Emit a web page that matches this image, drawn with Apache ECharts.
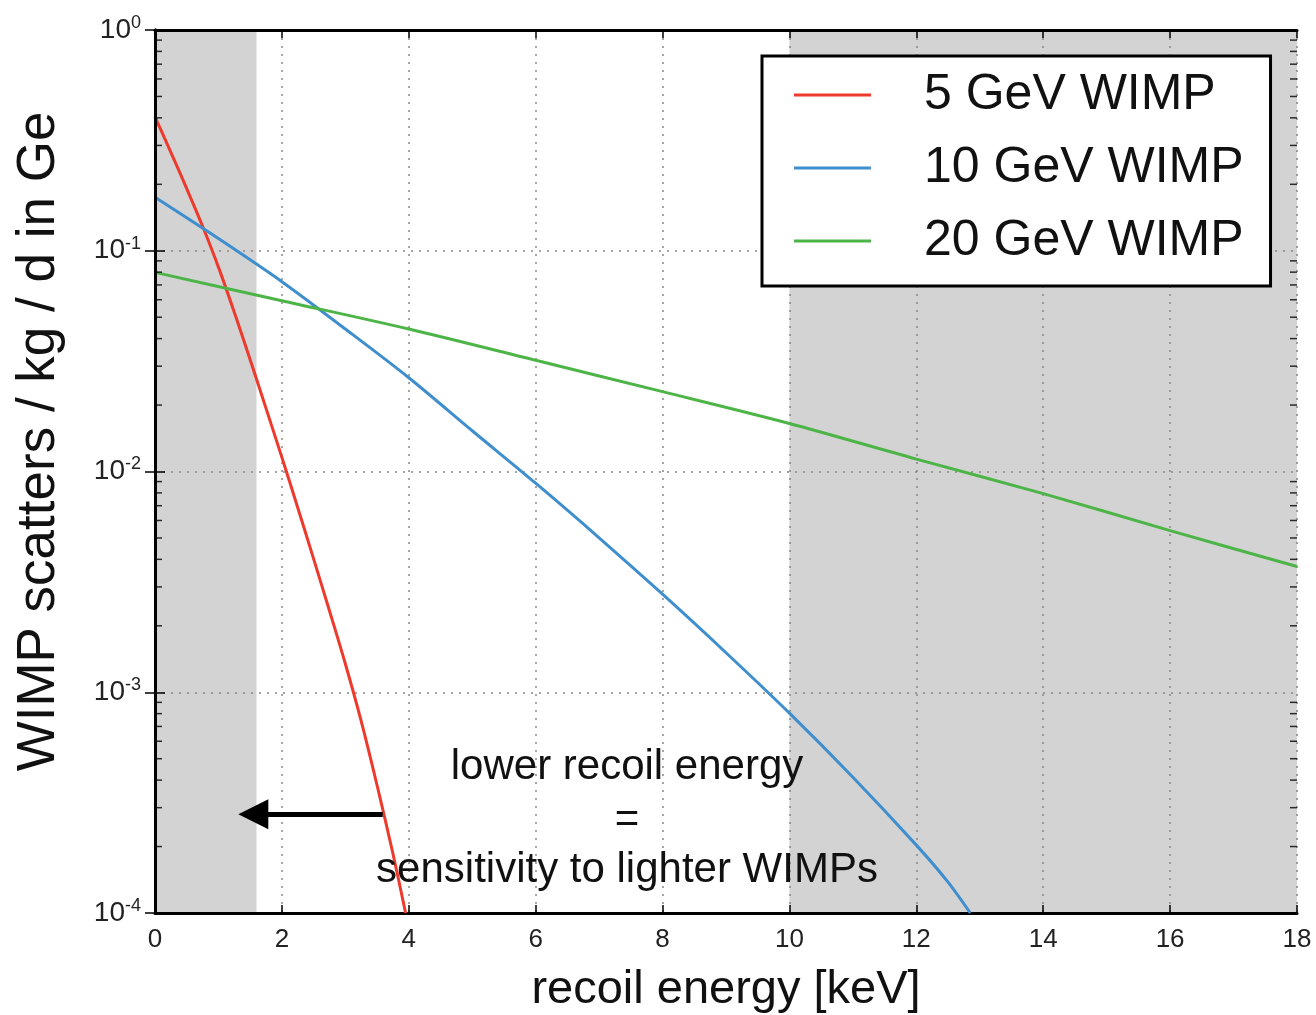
<!DOCTYPE html>
<html>
<head>
<meta charset="utf-8">
<script src="https://cdn.jsdelivr.net/npm/echarts@6/dist/echarts.min.js"></script>
<style>
  html, body { margin: 0; padding: 0; background: #fff; }
  #main { width: 1316px; height: 1015px; }
</style>
</head>
<body>
<div id="main"></div>
<script>
// recoil energy [keV] and rate [scatters / kg / d in Ge]
var energy5 = [0, 0.25, 0.5, 0.75, 1.0, 1.25, 1.5, 1.75, 2.0, 2.25, 2.5, 2.75, 3.0, 3.25, 3.5, 3.75, 3.95];
var rate5 = [0.4036, 0.2793, 0.191, 0.1291, 0.0843, 0.0526, 0.03206, 0.01932, 0.01159, 0.006855, 0.004018, 0.002339, 0.001346, 0.00074, 0.000379, 0.000186, 0.0001];

var energy10 = [0, 1, 2, 3, 4, 5, 6, 7, 8, 9, 10, 11, 12, 12.5, 12.85];
var rate10 = [0.1746, 0.1135, 0.0724, 0.0442, 0.0266, 0.0153, 0.00885, 0.00501, 0.00278, 0.00151, 0.000804, 0.000412, 0.000203, 0.000138, 0.0001];

var energy20 = [0, 2, 4, 6, 8, 10, 12, 14, 16, 18];
var rate20 = [0.0798, 0.0594, 0.0442, 0.0319, 0.0230, 0.0165, 0.01138, 0.00794, 0.0054, 0.00371];

var seriesNames = ['5 GeV WIMP', '10 GeV WIMP', '20 GeV WIMP'];
var seriesColors = ['#ee3a2c', '#3f8ecd', '#4db548'];

// shaded regions (keV)
var bands = [[0, 1.6], [10, 18]];

// log minor ticks 2..9 per decade
var minorTicks = [];
for (var n = -4; n < 0; n++) {
  for (var k = 2; k <= 9; k++) {
    minorTicks.push(k * Math.pow(10, n));
  }
}

var font = 'Liberation Sans, Arial, Helvetica, sans-serif';

function zip(xs, ys) {
  return xs.map(function (x, i) { return [x, ys[i]]; });
}

function curve(i, xs, ys) {
  return {
    name: seriesNames[i],
    type: 'line',
    data: zip(xs, ys),
    smooth: 0.3,
    symbol: 'none',
    z: 3,
    lineStyle: { color: seriesColors[i], width: 3 },
    itemStyle: { color: seriesColors[i] }
  };
}

var chart = echarts.init(document.getElementById('main'));

var redSeries = curve(0, energy5, rate5);
// arrow pointing to low energies
redSeries.markLine = {
  silent: true,
  symbol: ['none', 'triangle'],
  symbolSize: [30, 30],
  label: { show: false },
  lineStyle: { color: '#000', width: 5, type: 'solid' },
  data: [[{ coord: [3.59, 2.8e-4] }, { coord: [1.55, 2.8e-4] }]]
};

var series = [
  // gray bands
  {
    type: 'line',
    data: [],
    z: 0,
    silent: true,
    markArea: {
      silent: true,
      z: 0,
      itemStyle: { color: '#d3d3d3' },
      data: bands.map(function (b) { return [{ xAxis: b[0] }, { xAxis: b[1] }]; })
    }
  },
  redSeries,
  curve(1, energy10, rate10),
  curve(2, energy20, rate20),
  // minor ticks left / right
  {
    type: 'scatter',
    silent: true,
    z: 5,
    symbol: 'rect',
    symbolSize: [7, 1.5],
    symbolOffset: [3.5, 0],
    itemStyle: { color: '#000' },
    data: minorTicks.map(function (v) { return [0, v]; })
  },
  {
    type: 'scatter',
    silent: true,
    z: 5,
    symbol: 'rect',
    symbolSize: [7, 1.5],
    symbolOffset: [-3.5, 0],
    itemStyle: { color: '#000' },
    data: minorTicks.map(function (v) { return [18, v]; })
  }
];

chart.setOption({
  animation: false,
  backgroundColor: '#fff',
  textStyle: { fontFamily: font },
  grid: { left: 155, right: 19, top: 30, bottom: 102, containLabel: false, outerBoundsMode: 'none' },
  legend: {
    data: seriesNames,
    orient: 'vertical',
    left: 762,
    top: 56,
    align: 'left',
    icon: 'rect',
    itemWidth: 77,
    itemHeight: 3,
    itemGap: 23,
    padding: [14, 27, 20, 32],
    backgroundColor: '#fff',
    borderColor: '#000',
    borderWidth: 3,
    borderRadius: 0,
    z: 10,
    formatter: function (name) { return '{t|' + name + '}'; },
    textStyle: {
      rich: {
        t: { fontSize: 50, fontFamily: font, color: '#111', padding: [0, 0, 0, 48] }
      }
    }
  },
  xAxis: [
    {
      type: 'value',
      min: 0,
      max: 18,
      interval: 2,
      z: 2,
      name: 'recoil energy [keV]',
      nameLocation: 'middle',
      nameGap: 54,
      nameTextStyle: { fontSize: 47, color: '#111', fontFamily: font },
      axisLine: { lineStyle: { color: '#000', width: 3 } },
      axisTick: { inside: true, length: 8, lineStyle: { color: '#000', width: 1.5 } },
      axisLabel: { fontSize: 26, color: '#222', margin: 14, fontFamily: font },
      splitLine: { show: true, lineStyle: { color: '#888', width: 1.5, type: [2, 6] } }
    },
    {
      type: 'value',
      position: 'top',
      min: 0,
      max: 18,
      interval: 2,
      z: 6,
      axisLine: { lineStyle: { color: '#000', width: 3 } },
      axisTick: { inside: true, length: 8, lineStyle: { color: '#000', width: 1.5 } },
      axisLabel: { show: false },
      splitLine: { show: false }
    }
  ],
  yAxis: [
    {
      type: 'log',
      logBase: 10,
      min: 1e-4,
      max: 1,
      interval: 1,
      z: 2,
      name: 'WIMP scatters / kg / d in Ge',
      nameLocation: 'middle',
      nameGap: 89,
      nameTextStyle: { fontSize: 53, color: '#111', fontFamily: font, padding: [0, 0, 0, 60] },
      axisLine: { lineStyle: { color: '#000', width: 3 } },
      axisTick: { inside: true, length: 10, lineStyle: { color: '#000', width: 1.5 } },
      axisLabel: {
        margin: 14,
        formatter: function (v) {
          return '{b|10}{s|' + Math.round(Math.log10(v)) + '}';
        },
        rich: {
          b: { fontSize: 28, color: '#222', fontFamily: font, lineHeight: 32 },
          s: { fontSize: 18, color: '#222', fontFamily: font, verticalAlign: 'top', lineHeight: 32 }
        }
      },
      splitLine: { show: true, lineStyle: { color: '#888', width: 1.5, type: [2, 6] } }
    },
    {
      type: 'log',
      logBase: 10,
      position: 'right',
      min: 1e-4,
      max: 1,
      interval: 1,
      z: 6,
      axisLine: { lineStyle: { color: '#000', width: 3 } },
      axisTick: { inside: true, length: 10, lineStyle: { color: '#000', width: 1.5 } },
      axisLabel: { show: false },
      splitLine: { show: false }
    }
  ],
  graphic: [
    {
      type: 'text',
      x: 627, y: 767,
      style: { text: 'lower recoil energy', font: '42px ' + font, fill: '#111', align: 'center', verticalAlign: 'middle' },
      z: 8
    },
    {
      type: 'text',
      x: 627, y: 820,
      style: { text: '=', font: '42px ' + font, fill: '#111', align: 'center', verticalAlign: 'middle' },
      z: 8
    },
    {
      type: 'text',
      x: 627, y: 870,
      style: { text: 'sensitivity to lighter WIMPs', font: '42px ' + font, fill: '#111', align: 'center', verticalAlign: 'middle' },
      z: 8
    }
  ],
  series: series
});
</script>
</body>
</html>
